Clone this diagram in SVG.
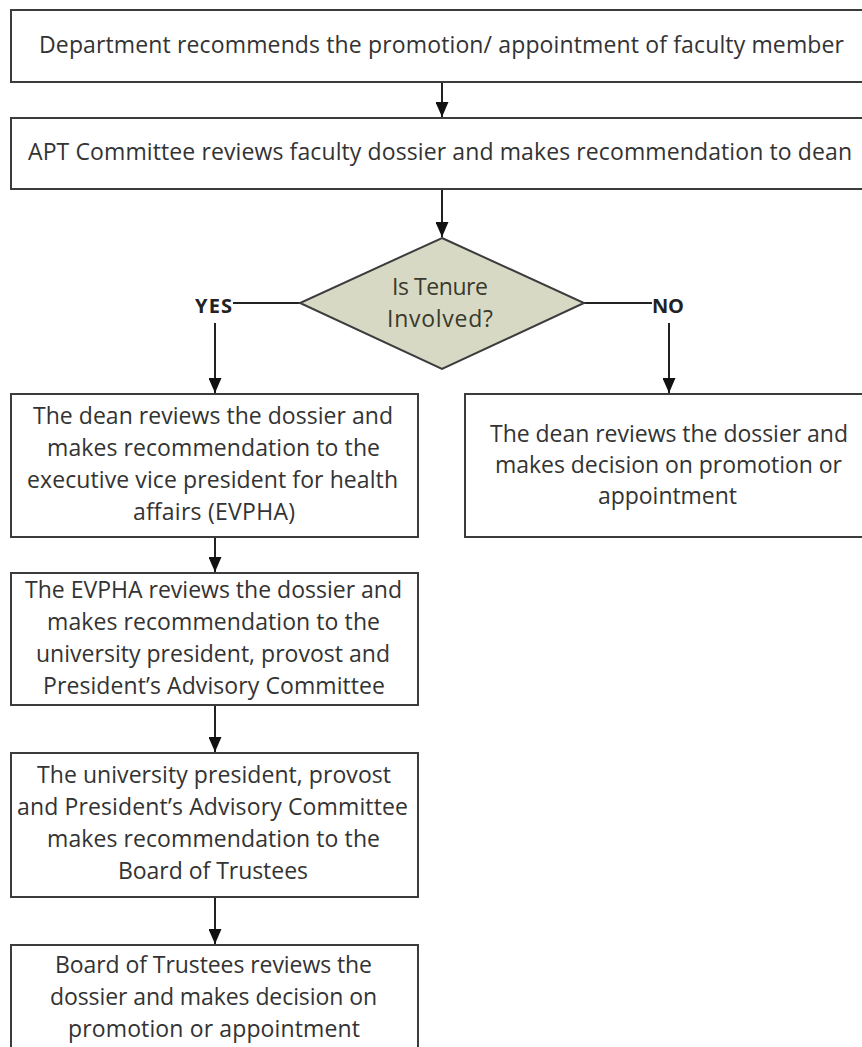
<svg xmlns="http://www.w3.org/2000/svg" width="862" height="1047" viewBox="0 0 862 1047">
<style>
.box{fill:#ffffff;stroke:#3c3c3c;stroke-width:2}
.dia{fill:#d7d9c5;stroke:#3c3c3c;stroke-width:2}
.t{font-family:"Open Sans","Noto Sans",sans-serif;font-size:23px;fill:#333333;text-anchor:middle}
.td{font-family:"Open Sans","Noto Sans",sans-serif;font-size:23px;fill:#3a3a2c;text-anchor:middle}
.lbl{font-family:"Open Sans","Noto Sans",sans-serif;font-size:20px;font-weight:bold;fill:#222222;text-anchor:middle}
.c{fill:none;stroke:#222222;stroke-width:2}
</style>
<defs>
<marker id="ah" markerUnits="userSpaceOnUse" markerWidth="15" markerHeight="13" refX="15" refY="6.5" orient="auto" viewBox="0 0 15 13">
<path d="M0,0 L15,6.5 L0,13 z" fill="#111111"/>
</marker>
</defs>
<rect width="862" height="1047" fill="#ffffff"/>
<g id="connectors">
<line class="c" x1="442" y1="83" x2="442" y2="117" marker-end="url(#ah)"/>
<line class="c" x1="442" y1="190" x2="442" y2="237" marker-end="url(#ah)"/>
<line class="c" x1="233" y1="303" x2="300" y2="303"/>
<line class="c" x1="215" y1="323" x2="215" y2="393" marker-end="url(#ah)"/>
<line class="c" x1="583" y1="303" x2="652" y2="303"/>
<line class="c" x1="669" y1="323" x2="669" y2="393" marker-end="url(#ah)"/>
<line class="c" x1="215" y1="538" x2="215" y2="572" marker-end="url(#ah)"/>
<line class="c" x1="215" y1="706" x2="215" y2="752" marker-end="url(#ah)"/>
<line class="c" x1="215" y1="898" x2="215" y2="944" marker-end="url(#ah)"/>
</g>
<g id="n1">
<rect class="box" x="11" y="10" width="870" height="72"/>
<text class="t" x="441.5" y="53" textLength="805">Department recommends the promotion/ appointment of faculty member</text>
</g>
<g id="n2">
<rect class="box" x="11" y="118" width="870" height="71"/>
<text class="t" x="440" y="160" textLength="824">APT Committee reviews faculty dossier and makes recommendation to dean</text>
</g>
<g id="decision">
<polygon class="dia" points="442,238 584,303 442,369 300,303"/>
<text class="td" x="440" y="295" textLength="96">Is Tenure</text>
<text class="td" x="440" y="327" textLength="106">Involved?</text>
</g>
<g id="yes-label"><text class="lbl" x="213.5" y="313" textLength="37">YES</text></g>
<g id="no-label"><text class="lbl" x="668" y="313" textLength="32">NO</text></g>
<g id="n3">
<rect class="box" x="11" y="394" width="407" height="143"/>
<text class="t" x="213" y="424" textLength="360">The dean reviews the dossier and</text>
<text class="t" x="213.5" y="456" textLength="333">makes recommendation to the</text>
<text class="t" x="212.5" y="488" textLength="371">executive vice president for health</text>
<text class="t" x="214" y="520" textLength="162">affairs (EVPHA)</text>
</g>
<g id="n4">
<rect class="box" x="465" y="394" width="420" height="143"/>
<text class="t" x="669" y="442" textLength="358">The dean reviews the dossier and</text>
<text class="t" x="668.5" y="473" textLength="347">makes decision on promotion or</text>
<text class="t" x="667.5" y="504" textLength="139">appointment</text>
</g>
<g id="n5">
<rect class="box" x="11" y="573" width="407" height="132"/>
<text class="t" x="213.5" y="598" textLength="377">The EVPHA reviews the dossier and</text>
<text class="t" x="213.5" y="630" textLength="333">makes recommendation to the</text>
<text class="t" x="213" y="662" textLength="354">university president, provost and</text>
<text class="t" x="214" y="694" textLength="342">President’s Advisory Committee</text>
</g>
<g id="n6">
<rect class="box" x="11" y="753" width="407" height="144"/>
<text class="t" x="214" y="783" textLength="354">The university president, provost</text>
<text class="t" x="212.5" y="815" textLength="391">and President’s Advisory Committee</text>
<text class="t" x="213.5" y="847" textLength="333">makes recommendation to the</text>
<text class="t" x="213" y="879" textLength="190">Board of Trustees</text>
</g>
<g id="n7">
<rect class="box" x="11" y="945" width="407" height="130"/>
<text class="t" x="213.5" y="973" textLength="317">Board of Trustees reviews the</text>
<text class="t" x="213.5" y="1005" textLength="327">dossier and makes decision on</text>
<text class="t" x="214" y="1037" textLength="292">promotion or appointment</text>
</g>
</svg>
